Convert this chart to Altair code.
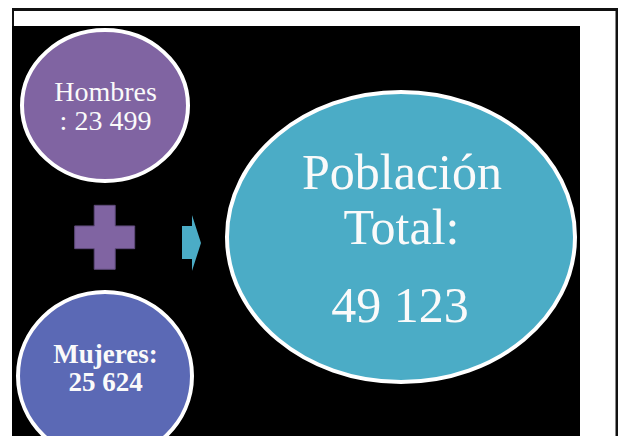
import altair as alt
import pandas as pd

# ---- data ----
groups = ["Hombres", "Mujeres", "Población Total"]
values = [23499, 25624, 49123]
colors = ["#8064A2", "#5B69B5", "#4BACC6"]


def fmt(v):
    return f"{v:,}".replace(",", " ")


# ---- layout (image pixel space; chart sits at page offset 8,8) ----
W, H = 610, 428
xs = alt.Scale(domain=[8, 8 + W], nice=False, zero=False)
ys = alt.Scale(domain=[8 + H, 8], nice=False, zero=False)

# ellipse geometry: cx, cy, rx, ry
geom = {
    "Hombres": (105, 105.5, 83, 75.5),
    "Mujeres": (105, 376, 87, 84),
    "Población Total": (401, 237, 174, 145),
}

K = 0.5523


def ellipse_path(k):
    a = K
    return (
        f"M 1 0 C 1 {a*k:.4f} {a:.4f} {k:.4f} 0 {k:.4f} "
        f"C {-a:.4f} {k:.4f} -1 {a*k:.4f} -1 0 "
        f"C -1 {-a*k:.4f} {-a:.4f} {-k:.4f} 0 {-k:.4f} "
        f"C {a:.4f} {-k:.4f} 1 {-a*k:.4f} 1 0 Z"
    )


ell_rows = []
for g, c in zip(groups, colors):
    cx, cy, rx, ry = geom[g]
    ell_rows.append(dict(name=g, x=cx, y=cy, shape=ellipse_path(ry / rx),
                         size=(2 * rx) ** 2, fill=c))
ell_df = pd.DataFrame(ell_rows)

# frame rectangles
frame_df = pd.DataFrame([
    dict(x=12, x2=618, y=8, y2=436, fill="#111111", o=0),
    dict(x=14, x2=615.5, y=11, y2=436, fill="#FFFFFF", o=1),
    dict(x=12, x2=580, y=26, y2=436, fill="#000000", o=2),
])

# plus and arrow symbols
plus_path = ("M -0.328 -1 L 0.328 -1 L 0.328 -0.355 L 0.9375 -0.355 L 0.9375 0.355 "
             "L 0.328 0.355 L 0.328 1 L -0.328 1 L -0.328 0.355 L -0.9375 0.355 "
             "L -0.9375 -0.355 L -0.328 -0.355 Z")
arrow_path = ("M -0.3 -0.567 L 0.033 -0.567 L 0.033 -0.933 L 0.333 0 L 0.033 0.933 "
              "L 0.033 0.533 L -0.3 0.533 Z")
sym_df = pd.DataFrame([
    dict(x=104.7, y=237.3, shape=plus_path, size=64 ** 2, fill=colors[0]),
])
arr_df = pd.DataFrame([
    dict(x=191, y=243, shape=arrow_path, size=60 ** 2, fill=colors[2]),
])

# text lines built from the data
text_rows = [
    dict(t=groups[0], x=105.5, y=101, s=28, w="normal"),
    dict(t=": " + fmt(values[0]), x=105.5, y=130, s=28, w="normal"),
    dict(t=groups[1] + ":", x=105.5, y=363, s=27, w="bold"),
    dict(t=fmt(values[1]), x=105.5, y=391, s=27, w="bold"),
    dict(t=groups[2].split(" ")[0], x=402, y=189, s=50, w="normal"),
    dict(t=groups[2].split(" ")[1] + ":", x=401.5, y=244, s=50, w="normal"),
    dict(t=fmt(values[2]), x=400, y=322, s=50, w="normal"),
]
text_df = pd.DataFrame(text_rows)

X = lambda f="x": alt.X(f"{f}:Q", scale=xs, axis=None)
Y = lambda f="y": alt.Y(f"{f}:Q", scale=ys, axis=None)

frames = [
    alt.Chart(frame_df[frame_df.o == i]).mark_rect().encode(
        x=X(), x2="x2:Q", y=Y(), y2="y2:Q",
        color=alt.Color("fill:N", scale=None),
    )
    for i in range(3)
]

ellipses = alt.Chart(ell_df).mark_point(
    filled=True, opacity=1, stroke="white", strokeWidth=4
).encode(
    x=X(), y=Y(),
    shape=alt.Shape("shape:N", scale=None),
    size=alt.Size("size:Q", scale=None),
    color=alt.Color("fill:N", scale=None),
)

plus = alt.Chart(sym_df).mark_point(
    filled=True, opacity=1, stroke="#5E4A7A", strokeWidth=1
).encode(
    x=X(), y=Y(),
    shape=alt.Shape("shape:N", scale=None),
    size=alt.Size("size:Q", scale=None),
    color=alt.Color("fill:N", scale=None),
)

arrow = alt.Chart(arr_df).mark_point(
    filled=True, opacity=1, strokeWidth=0
).encode(
    x=X(), y=Y(),
    shape=alt.Shape("shape:N", scale=None),
    size=alt.Size("size:Q", scale=None),
    color=alt.Color("fill:N", scale=None),
)

texts = [
    alt.Chart(text_df[text_df.s == s]).mark_text(
        font="Liberation Serif", fontSize=s, fontWeight=w, align="center",
        baseline="alphabetic", color="#FAFAFA"
    ).encode(x=X(), y=Y(), text="t:N")
    for s, w in [(28, "normal"), (27, "bold"), (50, "normal")]
]

chart = alt.layer(*frames, ellipses, plus, arrow, *texts).properties(
    width=W, height=H,
    autosize=alt.AutoSizeParams(type="none"),
    padding=0,
    background="white",
).configure_view(stroke=None)

chart.save("out.html", embed_options={"renderer": "svg", "actions": False})
